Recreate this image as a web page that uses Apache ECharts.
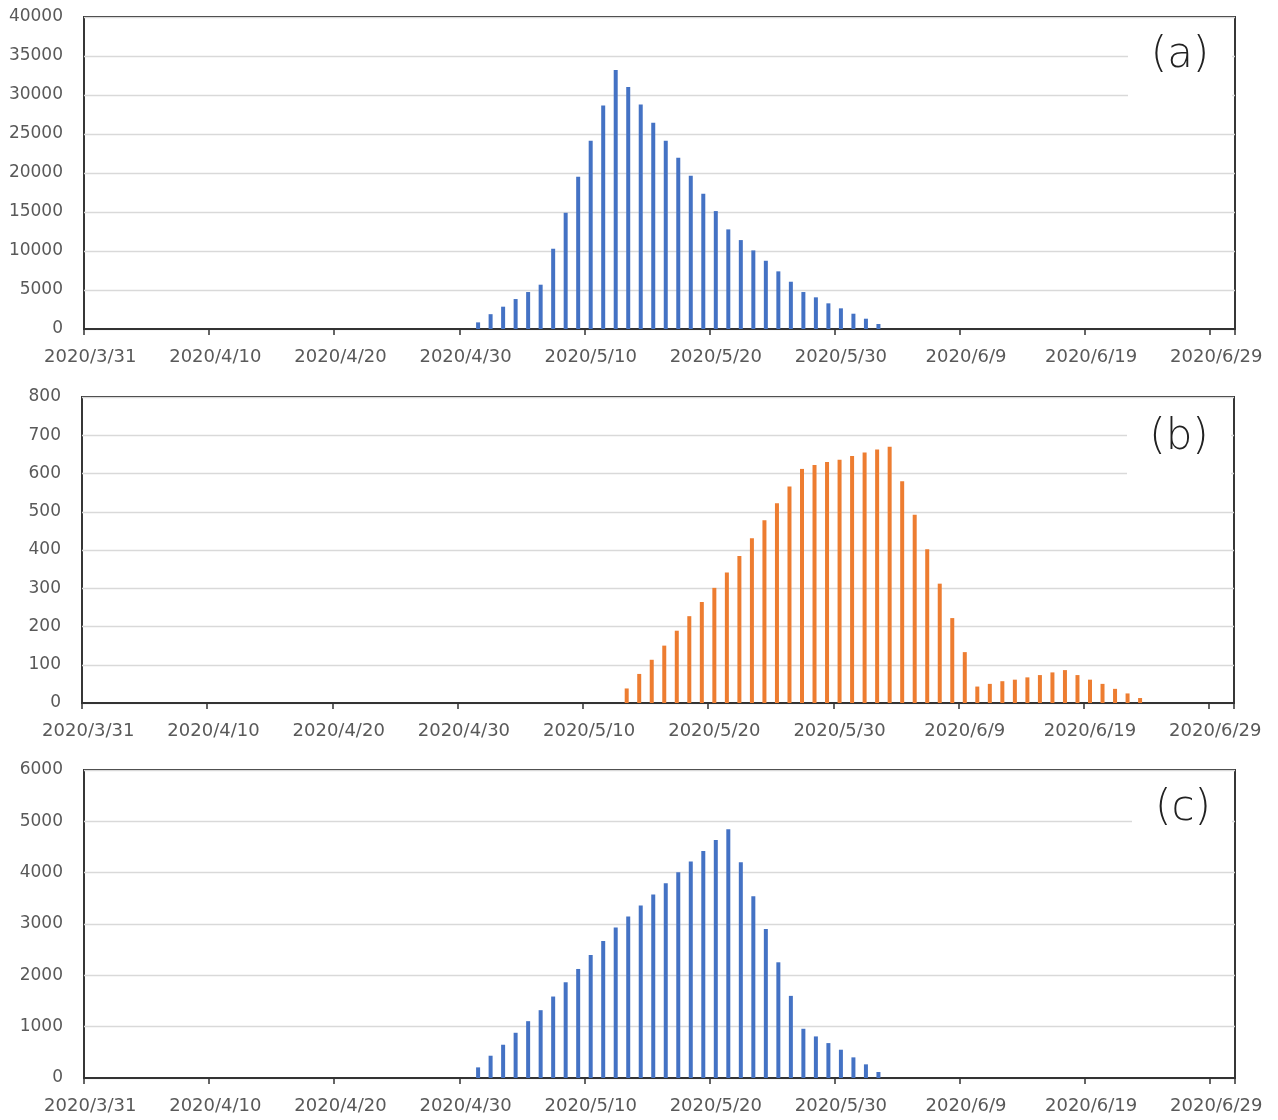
<!DOCTYPE html>
<html>
<head>
<meta charset="utf-8">
<script src="https://cdn.jsdelivr.net/npm/echarts@6/dist/echarts.min.js"></script>
<style>
html,body{margin:0;padding:0;background:#fff;}
#chart{width:1278px;height:1120px;}
</style>
</head>
<body>
<div id="chart"></div>
<script>
// ---- data ----
var axisStart = '2020/3/31';
var axisDays = 92;
var tickLabels = ['2020/3/31','2020/4/10','2020/4/20','2020/4/30','2020/5/10','2020/5/20','2020/5/30','2020/6/9','2020/6/19','2020/6/29'];

var aStart = '2020/5/1';
var aValues = [850, 1900, 2860, 3840, 4740, 5680, 10290, 14900, 19510, 24120, 28650, 33220, 31040, 28780, 26430, 24120, 21950, 19640, 17340, 15120, 12770, 11400, 10080, 8750, 7390, 6060, 4740, 4060, 3290, 2650, 1960, 1320, 640];

var bStart = '2020/5/13';
var bValues = [38, 76, 113, 150, 189, 227, 264, 301, 341, 384, 431, 478, 522, 566, 612, 622, 630, 636, 646, 655, 663, 670, 580, 492, 402, 312, 222, 133, 43, 50, 57, 61, 67, 73, 80, 86, 73, 61, 50, 37, 25, 13];

var cStart = '2020/5/1';
var cValues = [207, 434, 648, 881, 1107, 1321, 1587, 1865, 2124, 2396, 2668, 2934, 3148, 3361, 3575, 3795, 4009, 4216, 4424, 4637, 4845, 4203, 3543, 2902, 2254, 1600, 959, 810, 680, 551, 402, 266, 117];

var panelLabels = ['(a)', '(b)', '(c)'];

// ---- helpers ----
function parseD(s){ var p = s.split('/'); return Date.UTC(+p[0], +p[1]-1, +p[2]); }
function fmtD(t){ var d = new Date(t); return d.getUTCFullYear() + '/' + (d.getUTCMonth()+1) + '/' + d.getUTCDate(); }
var DAY = 86400000;
var categories = [];
for (var i = 0; i < axisDays; i++) categories.push(fmtD(parseD(axisStart) + i*DAY));
function pairs(start, vals){
  var t0 = parseD(start);
  return vals.map(function(v, k){ return [fmtD(t0 + k*DAY), v]; });
}

var labelColor = '#595959';
var fontFam = 'DejaVu Sans';

var grids = [
  {left: 84, top: 17, width: 1151, height: 312},
  {left: 82, top: 397, width: 1152, height: 306},
  {left: 84, top: 770, width: 1151, height: 308}
];
var yCfg = [
  {max: 40000, interval: 5000},
  {max: 800, interval: 100},
  {max: 6000, interval: 1000}
];

var option = {
  animation: false,
  backgroundColor: '#fff',
  grid: grids.map(function(g){ return Object.assign({show: true, borderColor: '#222', borderWidth: 1.8, backgroundColor: 'transparent'}, g); }),
  xAxis: grids.map(function(g, i){
    return {
      type: 'category', gridIndex: i, data: categories, boundaryGap: true,
      axisLine: {lineStyle: {color: '#333', width: 1.8}},
      axisTick: {show: true, interval: 9, alignWithLabel: false, length: 6, lineStyle: {color: '#333', width: 1.5}},
      axisLabel: {
        interval: 9, margin: 19, color: labelColor, fontSize: 18, fontFamily: fontFam,
        formatter: function(v){ return tickLabels.indexOf(v) >= 0 ? v : ''; }
      },
      splitLine: {show: false}
    };
  }),
  yAxis: yCfg.map(function(c, i){
    return {
      type: 'value', gridIndex: i, min: 0, max: c.max, interval: c.interval,
      axisLine: {show: false}, axisTick: {show: false},
      axisLabel: {margin: 21, color: labelColor, fontSize: 17, fontFamily: fontFam,
        formatter: function(v){ return String(v); }},
      splitLine: {lineStyle: {color: '#D9D9D9', width: 1.3}}
    };
  }),
  series: [
    {type: 'bar', xAxisIndex: 0, yAxisIndex: 0, data: pairs(aStart, aValues), barWidth: 4, itemStyle: {color: '#4472C4'}},
    {type: 'bar', xAxisIndex: 1, yAxisIndex: 1, data: pairs(bStart, bValues), barWidth: 4, itemStyle: {color: '#ED7D31'}},
    {type: 'bar', xAxisIndex: 2, yAxisIndex: 2, data: pairs(cStart, cValues), barWidth: 4, itemStyle: {color: '#4472C4'}}
  ],
  graphic: [
    {type: 'rect', z: 10, shape: {x: 1128, y: 38, width: 104, height: 72}, style: {fill: '#fff'}},
    {type: 'rect', z: 10, shape: {x: 1127, y: 418, width: 104, height: 72}, style: {fill: '#fff'}},
    {type: 'rect', z: 10, shape: {x: 1132, y: 792, width: 100, height: 50}, style: {fill: '#fff'}},
    {type: 'text', z: 11, x: 1180, y: 56, style: {text: panelLabels[0], fontSize: 42, fontWeight: 200, fontFamily: fontFam, fill: '#222', align: 'center', verticalAlign: 'middle'}},
    {type: 'text', z: 11, x: 1179, y: 438, style: {text: panelLabels[1], fontSize: 42, fontWeight: 200, fontFamily: fontFam, fill: '#222', align: 'center', verticalAlign: 'middle'}},
    {type: 'text', z: 11, x: 1183, y: 809, style: {text: panelLabels[2], fontSize: 42, fontWeight: 200, fontFamily: fontFam, fill: '#222', align: 'center', verticalAlign: 'middle'}}
  ]
};

var chart = echarts.init(document.getElementById('chart'), null, {renderer: 'canvas'});
chart.setOption(option);
</script>
</body>
</html>
